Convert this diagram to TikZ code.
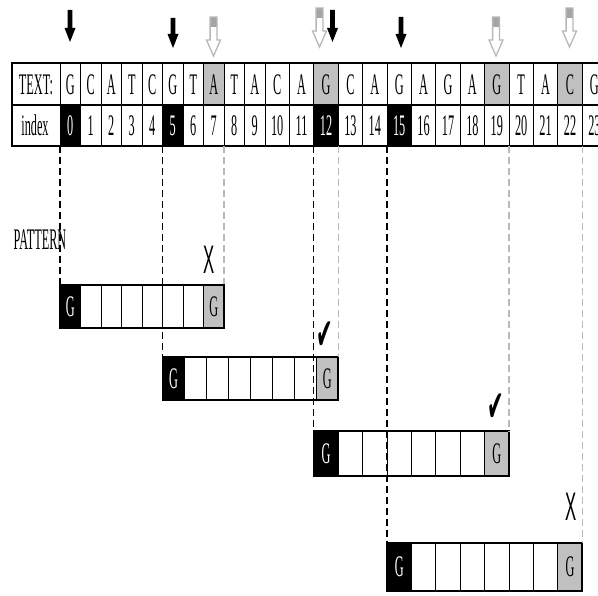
\documentclass[tikz,border=0pt]{standalone}
\usepackage{graphicx}
\usepackage{fontspec}
\setmainfont{Liberation Serif}
\newfontfamily\symfont{DejaVu Sans}
\newfontfamily\xfont{Liberation Sans}
\definecolor{cellgray}{RGB}{192,192,192}
\definecolor{linegray}{RGB}{185,185,185}
\definecolor{arrowgray}{RGB}{165,165,165}
\newcommand\sqz[1]{\scalebox{0.41}[1]{#1}}
\newcommand\blackarrow[3]{%
  \fill[black] (#1-2.4,#2) -- (#1+2.4,#2) -- (#1+2.4,#3-14) -- (#1+5.5,#3-14)
    -- (#1,#3) -- (#1-5.5,#3-14) -- (#1-2.4,#3-14) -- cycle;}
\newcommand\grayarrow[3]{%
  \fill[arrowgray] (#1-3.4,#2) rectangle (#1+3.4,#2+10);
  \draw[arrowgray!80, line width=1.3, line join=miter] (#1-3.4,#2) -- (#1+3.4,#2) -- (#1+3.4,#3-16) -- (#1+7,#3-16)
    -- (#1,#3) -- (#1-7,#3-16) -- (#1-3.4,#3-16) -- cycle;}
\begin{document}
\begin{tikzpicture}[x=1bp,y=-1bp,
  lbl/.style={inner sep=0pt, font=\fontsize{30}{32}\selectfont},
  cellline/.style={draw=black, line width=0.8},
  blackdash/.style={draw=black, line width=1.3, dash pattern=on 7 off 4},
  graydash/.style={draw=linegray, line width=1.3, dash pattern=on 7 off 4},
  xmark/.style={inner sep=0pt, font=\xfont\fontsize{40}{42}\selectfont},
  cmark/.style={inner sep=0pt, font=\symfont\fontsize{44}{46}\selectfont}]
\useasboundingbox (0,0) rectangle (598,596);
\clip (0,0) rectangle (598,596);

% ---- table ----
\path[cellline] (12,63) rectangle (60,105);
\path[cellline] (12,105) rectangle (60,146);
\node[lbl] (textlbl) at (36,84.5) {\sqz{TEXT:}};
\node[lbl] (indexlbl) at (35,125.5) {\sqz{index}};
\foreach \i/\l/\r/\ch/\tf/\xf/\xc in {
  0/60/80.5/G/white/black/white,
  1/80.5/101/C/white/white/black,
  2/101/121.5/A/white/white/black,
  3/121.5/142/T/white/white/black,
  4/142/162.5/C/white/white/black,
  5/162.5/183/G/white/black/white,
  6/183/203.5/T/white/white/black,
  7/203.5/224/A/cellgray/white/black,
  8/224/244.5/T/white/white/black,
  9/244.5/265/A/white/white/black,
  10/265/289.4/C/white/white/black,
  11/289.4/313.8/A/white/white/black,
  12/313.8/338.2/G/cellgray/black/white,
  13/338.2/362.6/C/white/white/black,
  14/362.6/387/A/white/white/black,
  15/387/411.4/G/white/black/white,
  16/411.4/435.8/A/white/white/black,
  17/435.8/460.2/G/white/white/black,
  18/460.2/484.6/A/white/white/black,
  19/484.6/509/G/cellgray/white/black,
  20/509/533.4/T/white/white/black,
  21/533.4/557.8/A/white/white/black,
  22/557.8/582.2/C/cellgray/white/black,
  23/582.2/606.6/G/white/white/black}{
  \path[cellline, fill=\tf] (\l,63) rectangle (\r,105);
  \path[cellline, fill=\xf] (\l,105) rectangle (\r,146);
  \node[lbl] (t\i) at ({(\l+\r)/2},84.5) {\sqz{\ch}};
  \node[lbl, text=\xc] (n\i) at ({(\l+\r)/2},125.5) {\sqz{\i}};
}
\draw[line width=1.8] (12,63) rectangle (606.6,146);
\draw[line width=1.1] (12,105) -- (606.6,105);

% ---- arrows ----
\blackarrow{70}{10}{42}
\blackarrow{173}{18}{48}
\blackarrow{332.5}{10}{42}
\blackarrow{401}{17}{48}
\grayarrow{213.5}{17}{56}
\grayarrow{319.5}{8}{47}
\grayarrow{496}{17}{56}
\grayarrow{569.5}{8}{47}

% ---- label ----
\node[lbl] (patlbl) at (40,240) {\sqz{PATTERN}};

% ---- patterns ----
\foreach \p/\l/\r/\tp/\bt in {1/60/224/285/328, 2/162.5/338.2/357/400,
    3/313.8/509/431/476, 4/387/582.2/543/591}{
  \pgfmathsetmacro\w{(\r-\l)/8}
  \fill[black] (\l,\tp) rectangle (\l+\w,\bt);
  \fill[cellgray] (\r-\w,\tp) rectangle (\r,\bt);
  \foreach \k in {1,...,7}{
    \draw[cellline] (\l+\k*\w,\tp) -- (\l+\k*\w,\bt);
  }
  \draw[line width=1.5] (\l,\tp) rectangle (\r,\bt);
  \node[lbl, text=white] (pa\p) at (\l+\w/2,{(\tp+\bt)/2}) {\sqz{G}};
  \node[lbl] (pb\p) at (\r-\w/2,{(\tp+\bt)/2}) {\sqz{G}};
}

% ---- dashed guide lines ----
\coordinate (d1a) at (60,146);   \coordinate (d1b) at (60,285);
\coordinate (d2a) at (162.5,146);\coordinate (d2b) at (162.5,357);
\coordinate (d3a) at (313.8,146);\coordinate (d3b) at (313.8,431);
\coordinate (d4a) at (387,146);  \coordinate (d4b) at (387,543);
\coordinate (g1a) at (224,146);  \coordinate (g1b) at (224,285);
\coordinate (g2a) at (338.2,146);\coordinate (g2b) at (338.2,357);
\coordinate (g3a) at (509,146);  \coordinate (g3b) at (509,431);
\coordinate (g4a) at (582.2,146);\coordinate (g4b) at (582.2,543);
\foreach \n in {1,2,3,4}{
  \draw[blackdash] (d\n a) -- (d\n b);
  \draw[graydash] (g\n a) -- (g\n b);
}

% ---- marks ----
\node[xmark] (x1) at (209,260) {\scalebox{0.42}[1]{X}};
\node[xmark] (x2) at (571,507) {\scalebox{0.42}[1]{X}};
\node[cmark] (c1) at (325,336) {\scalebox{0.45}[1]{✔}};
\node[cmark] (c2) at (496,408) {\scalebox{0.45}[1]{✔}};
\end{tikzpicture}
\end{document}
